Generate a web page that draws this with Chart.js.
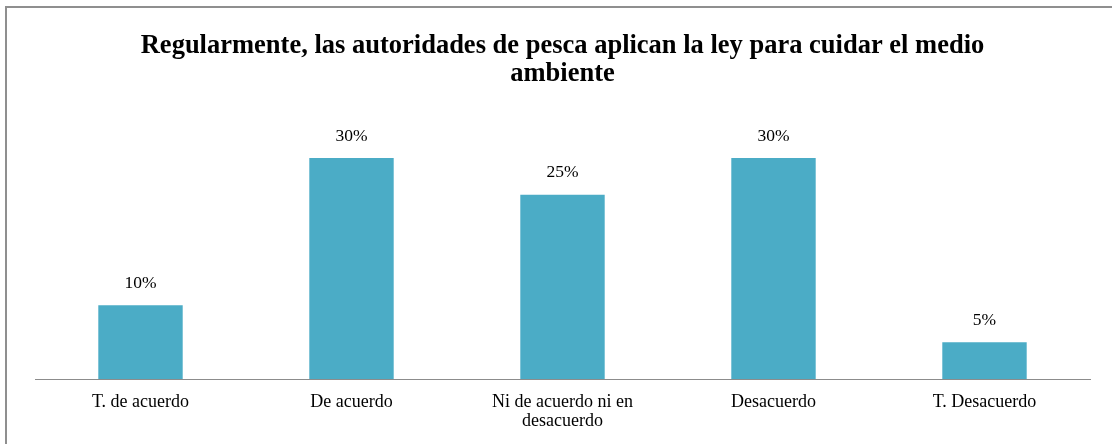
<!DOCTYPE html>
<html>
<head>
<meta charset="utf-8">
<script src="https://cdn.jsdelivr.net/npm/chart.js@4"></script>
<style>
  body { margin: 0; background: #fff; overflow: hidden; }
  #wrap { position: relative; width: 1112px; height: 444px; }
  #marco { position: absolute; left: 5px; top: 6px; width: 1200px; height: 500px;
           border-left: 2px solid #8f8f8f; border-top: 2px solid #8f8f8f; pointer-events: none; }
</style>
</head>
<body>
<div id="wrap">
  <canvas id="grafico" width="1112" height="444"></canvas>
  <div id="marco"></div>
</div>
<script>
// Datos de la encuesta
const categorias = ["T. de acuerdo", "De acuerdo", ["Ni de acuerdo ni en", "desacuerdo"], "Desacuerdo", "T. Desacuerdo"];
const porcentajes = [10, 30, 25, 30, 5];
const titulo = ["Regularmente, las autoridades de pesca aplican la ley para cuidar el medio", "ambiente"];

// Etiquetas de valor sobre cada barra
const etiquetasBarras = {
  id: 'etiquetasBarras',
  afterDatasetsDraw(chart) {
    const ctx = chart.ctx;
    const meta = chart.getDatasetMeta(0);
    ctx.save();
    ctx.font = "17.5px 'Liberation Serif'";
    ctx.fillStyle = '#000';
    ctx.textAlign = 'center';
    ctx.textBaseline = 'middle';
    meta.data.forEach((bar, i) => {
      ctx.fillText(porcentajes[i] + '%', bar.x, bar.y - 22);
    });
    ctx.restore();
  }
};

const ctx = document.getElementById('grafico').getContext('2d');
new Chart(ctx, {
  type: 'bar',
  data: {
    labels: categorias,
    datasets: [{
      data: porcentajes,
      backgroundColor: '#4BACC6',
      borderWidth: 0,
      categoryPercentage: 1,
      barPercentage: 0.4
    }]
  },
  options: {
    responsive: false,
    animation: false,
    layout: { padding: { left: 35, right: 22, top: 32, bottom: 0 } },
    scales: {
      y: {
        display: false,
        min: 0,
        max: 35
      },
      x: {
        grid: { display: false, drawTicks: false },
        border: { display: true, color: '#8c8c8c', width: 1 },
        ticks: {
          color: '#000',
          padding: 14,
          font: { family: 'Liberation Serif', size: 18, lineHeight: 1.06 },
          maxRotation: 0
        },
        afterFit(scale) { scale.height = 65; }
      }
    },
    plugins: {
      legend: { display: false },
      tooltip: { enabled: false },
      title: {
        display: true,
        text: titulo,
        color: '#000',
        font: { family: 'Liberation Serif', size: 26.5, weight: 'bold', lineHeight: 1.06 },
        padding: { top: 0, bottom: 33 }
      }
    }
  },
  plugins: [etiquetasBarras]
});
</script>
</body>
</html>
